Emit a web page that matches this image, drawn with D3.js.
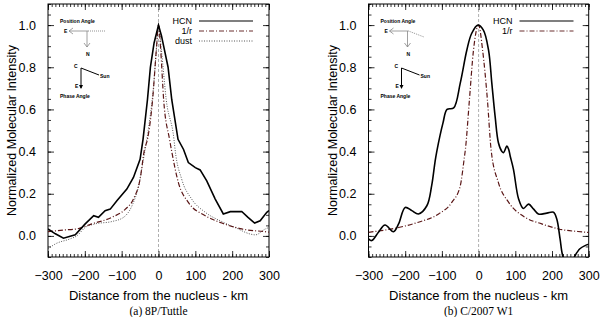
<!DOCTYPE html>
<html>
<head>
<meta charset="utf-8">
<script src="https://cdn.jsdelivr.net/npm/d3@7"></script>
<style>
  body { margin: 0; background: #fff; }
  svg { display: block; }
  text { font-family: "Liberation Sans", Arial, sans-serif; }
</style>
</head>
<body>
<svg id="chart" width="600" height="317"></svg>
<script>
// ---- data (km from nucleus, normalized intensity) ----
var tuttleKm  = [-300,-280,-258,-226,-199,-176,-163,-145,-131,-113,-86,-68,-50,-42,-30,-22,-12,0,8,14,26,36,53,68,81,100,113,131,154,176,195,226,243,261,276,294,300];
var tuttleHcn = [0.033,0.01,-0.011,0.005,0.057,0.096,0.088,0.12,0.127,0.167,0.222,0.277,0.363,0.458,0.646,0.80,0.915,1.0,0.95,0.90,0.80,0.646,0.458,0.41,0.348,0.324,0.313,0.261,0.175,0.104,0.115,0.116,0.088,0.061,0.072,0.112,0.12];

var tuttleRKm = [-300,-258,-222,-181,-127,-90,-68,-50,-38,-30,-16,-6,0,6,14,30,36,54,81,127,172,226,290,300];
var tuttleR   = [0.02,0.028,0.033,0.057,0.088,0.127,0.175,0.269,0.41,0.458,0.646,0.88,1.0,0.88,0.646,0.458,0.40,0.253,0.159,0.096,0.061,0.033,0.02,0.018];

var dustKm = [-300,-280,-240,-222,-199,-172,-127,-95,-72,-54,-41,-28,-14,-5,0,8,21,42,45,63,90,127,172,208,249,263,290,300];
var dust   = [-0.061,-0.038,-0.014,0.0,0.04,0.057,0.068,0.088,0.143,0.237,0.363,0.5,0.7,0.9,1.0,0.88,0.646,0.458,0.41,0.269,0.175,0.112,0.068,0.04,0.009,0.005,0.033,0.04];

var w1Km  = [-300,-291,-273,-255,-232,-218,-200,-182,-164,-141,-128,-119,-114,-97,-86,-68,-50,-32,-19,-2,13,27,36,45,54,63,68,77,82,86,95,109,122,136,150,163,186,204,213,222,229,245,263,276,290,300];
var w1Hcn = [-0.014,-0.022,0.017,0.052,0.02,0.057,0.135,0.12,0.104,0.143,0.237,0.348,0.40,0.536,0.6,0.607,0.725,0.882,0.96,1.0,0.976,0.882,0.725,0.567,0.442,0.402,0.395,0.426,0.41,0.379,0.316,0.175,0.13,0.151,0.127,0.104,0.108,0.112,0.08,-0.014,-0.093,-0.16,-0.093,-0.061,-0.046,-0.04];

var w1RKm = [-300,-218,-164,-109,-73,-50,-39,-36,-25,-14,0,11,24,34,54,82,127,172,218,295,300];
var w1R   = [0.017,0.04,0.065,0.104,0.159,0.237,0.37,0.41,0.646,0.88,1.0,0.88,0.646,0.41,0.253,0.159,0.088,0.057,0.033,0.017,0.016];

var xTicks = [-300,-200,-100,0,100,200,300];
var yTicks = [0.0,0.2,0.4,0.6,0.8,1.0];

var svg = d3.select("#chart");

function zip(xs, ys) { return xs.map(function(x, i) { return [x, ys[i]]; }); }

function drawPanel(id, left, right, series, legend, caption, inset) {
  var top = 4, bottom = 257;
  var x = d3.scaleLinear().domain([-300, 300]).range([left, right]);
  var y = d3.scaleLinear().domain([-0.1, 1.1]).range([bottom, top]);
  var g = svg.append("g");

  g.append("clipPath").attr("id", "clip" + id)
    .append("rect").attr("x", left).attr("y", top).attr("width", right - left).attr("height", bottom - top);

  // center dashed line
  g.append("line")
    .attr("x1", x(0)).attr("x2", x(0)).attr("y1", top).attr("y2", bottom)
    .style("stroke", "#9a9a9a").style("stroke-width", 0.8).style("stroke-dasharray", "3,2");

  // axes with inward ticks
  function addAxis(axis, tr) {
    var a = g.append("g").attr("transform", tr).call(axis);
    a.select(".domain").remove();
    a.selectAll("line").style("stroke", "#000").style("stroke-width", 0.8);
    return a;
  }
  var minorX = d3.range(-300, 301, 10), minorY = d3.range(-0.1, 1.101, 0.05);
  addAxis(d3.axisBottom(x).tickValues(minorX).tickSize(-3).tickFormat(""), "translate(0," + bottom + ")");
  addAxis(d3.axisTop(x).tickValues(minorX).tickSize(-3).tickFormat(""), "translate(0," + top + ")");
  addAxis(d3.axisTop(x).tickValues(xTicks).tickSize(-6).tickFormat(""), "translate(0," + top + ")");
  addAxis(d3.axisLeft(y).tickValues(minorY).tickSize(-3).tickFormat(""), "translate(" + left + ",0)");
  addAxis(d3.axisRight(y).tickValues(minorY).tickSize(-3).tickFormat(""), "translate(" + right + ",0)");
  addAxis(d3.axisRight(y).tickValues(yTicks).tickSize(-6).tickFormat(""), "translate(" + right + ",0)");

  var xb = addAxis(d3.axisBottom(x).tickValues(xTicks).tickSize(-6).tickPadding(14).tickFormat(d3.format("d")), "translate(0," + bottom + ")");
  xb.selectAll("text").style("font-size", "12.5px").style("fill", "#000")
    .attr("font-family", null).attr("dy", "0.71em");
  var yl = addAxis(d3.axisLeft(y).tickValues(yTicks).tickSize(-6).tickPadding(12).tickFormat(d3.format(".1f")), "translate(" + left + ",0)");
  yl.selectAll("text").style("font-size", "12.5px").style("fill", "#000").attr("font-family", null);

  g.append("rect").attr("x", left).attr("y", top).attr("width", right - left).attr("height", bottom - top)
    .style("fill", "none").style("stroke", "#000").style("stroke-width", 1);

  // curves
  series.forEach(function(s) {
    var line = d3.line().x(function(d) { return x(d[0]); }).y(function(d) { return y(d[1]); })
      .curve(s.curve);
    g.append("path").datum(s.data)
      .attr("clip-path", "url(#clip" + id + ")")
      .attr("d", line)
      .style("fill", "none").style("stroke", s.color).style("stroke-width", s.width)
      .style("stroke-dasharray", s.dash);
  });

  // legend
  legend.forEach(function(s, i) {
    var ly = 21 + i * 10;
    g.append("text").attr("x", left + 144).attr("y", ly + 3).attr("text-anchor", "end")
      .style("font-size", "9px").text(s.name);
    g.append("line").attr("x1", left + 151).attr("x2", left + 205).attr("y1", ly).attr("y2", ly)
      .style("stroke", s.color).style("stroke-width", s.width === 1.6 ? 1.1 : 0.9).style("stroke-dasharray", s.dash);
  });

  // axis titles
  g.append("text").attr("x", (left + right) / 2).attr("y", 300).attr("text-anchor", "middle")
    .style("font-size", "13px").text("Distance from the nucleus - km");
  g.append("text").attr("transform", "translate(" + (left - 32) + "," + ((top + bottom) / 2) + ") rotate(-90)")
    .attr("text-anchor", "middle").style("font-size", "12.5px").text("Normalized Molecular Intensity");
  g.append("text").attr("x", (left + right) / 2).attr("y", 315).attr("text-anchor", "middle")
    .style("font-family", "'Liberation Serif', 'Times New Roman', serif").style("font-size", "11.5px").text(caption);

  // orientation inset
  var ix = left + 12;
  var ins = g.append("g").style("font-size", "5px");
  ins.append("text").attr("x", ix).attr("y", 23).style("font-weight", "bold").text("Position Angle");
  ins.append("text").attr("x", ix + 4).attr("y", 33).style("font-weight", "bold").text("E");
  ins.append("line").attr("x1", ix + 28).attr("y1", 31).attr("x2", inset.dx2).attr("y2", inset.dy2)
    .style("stroke", "#777").style("stroke-width", 0.8).style("stroke-dasharray", "1,1");
  ins.append("path").attr("d", "M" + (ix + 28) + ",31 L" + (ix + 9) + ",31 M" + (ix + 13) + ",28 L" + (ix + 9) + ",31 L" + (ix + 13) + ",34")
    .style("fill", "none").style("stroke", "#888").style("stroke-width", 0.8);
  ins.append("path").attr("d", "M" + (ix + 27) + ",31 L" + (ix + 27) + ",47 M" + (ix + 24) + ",43 L" + (ix + 27) + ",47 L" + (ix + 30) + ",43")
    .style("fill", "none").style("stroke", "#888").style("stroke-width", 0.8);
  ins.append("text").attr("x", ix + 26).attr("y", 56).style("font-weight", "bold").text("N");
  ins.append("text").attr("x", ix + 14).attr("y", 68).style("font-weight", "bold").text("C");
  ins.append("path").attr("d", "M" + (ix + 21) + ",68 L" + (ix + 39) + ",75")
    .style("fill", "none").style("stroke", "#000").style("stroke-width", 1);
  ins.append("text").attr("x", ix + 40).attr("y", 78).style("font-weight", "bold").text("Sun");
  ins.append("path").attr("d", "M" + (ix + 21) + ",68 L" + (ix + 21) + ",88")
    .style("fill", "none").style("stroke", "#000").style("stroke-width", 1);
  ins.append("path").attr("d", "M" + (ix + 19) + ",85 L" + (ix + 21) + ",89 L" + (ix + 23) + ",85 Z").style("fill", "#000");
  ins.append("text").attr("x", ix + 15).attr("y", 88).style("font-weight", "bold").text("E");
  ins.append("text").attr("x", ix).attr("y", 98).style("font-weight", "bold").text("Phase Angle");
}

var hcnStyle = { color: "#000", width: 1.6, dash: null };
var rStyle = { color: "#5a1616", width: 1.2, dash: "5,2,1,2" };
var dustStyle = { color: "#444", width: 0.9, dash: "1,1.5" };

drawPanel("a", 48, 269,
  [
    Object.assign({ data: zip(dustKm, dust), curve: d3.curveMonotoneX }, dustStyle),
    Object.assign({ data: zip(tuttleRKm, tuttleR), curve: d3.curveMonotoneX }, rStyle),
    Object.assign({ data: zip(tuttleKm, tuttleHcn), curve: d3.curveLinear }, hcnStyle)
  ],
  [
    Object.assign({ name: "HCN" }, hcnStyle),
    Object.assign({ name: "1/r" }, rStyle),
    Object.assign({ name: "dust" }, dustStyle)
  ],
  "(a) 8P/Tuttle", { dx2: 105, dy2: 31 });

drawPanel("b", 368.5, 588.7,
  [
    Object.assign({ data: zip(w1RKm, w1R), curve: d3.curveMonotoneX }, rStyle),
    Object.assign({ data: zip(w1Km, w1Hcn), curve: d3.curveCatmullRom }, hcnStyle)
  ],
  [
    Object.assign({ name: "HCN" }, hcnStyle),
    Object.assign({ name: "1/r" }, rStyle)
  ],
  "(b) C/2007 W1", { dx2: 424, dy2: 37 });
</script>
</body>
</html>
